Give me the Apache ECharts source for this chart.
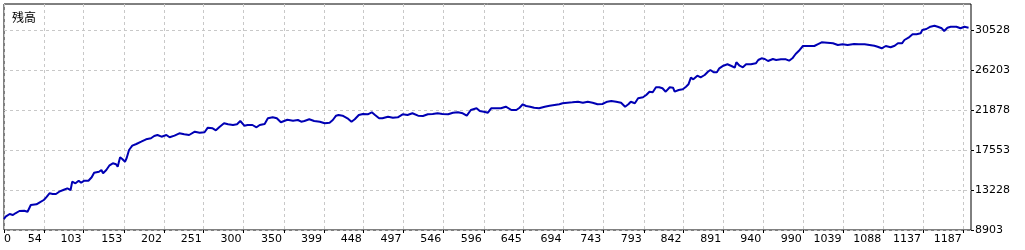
<!DOCTYPE html>
<html>
<head>
<meta charset="utf-8">
<script src="https://cdn.jsdelivr.net/npm/echarts@6/dist/echarts.min.js"></script>
<style>
html,body{margin:0;padding:0;background:#fff;}
#c{width:1025px;height:250px;}
</style>
</head>
<body>
<div id="c"></div>
<script>
// ---- data ----
const chartTitle = '残高';
const xTickLabels = ['0','54','103','153','202','251','300','350','399','448','497','546','596','645','694','743','793','842','891','940','990','1039','1088','1137','1187'];
const xTickValues = [5,54,103,153,202,251,300,350,399,448,497,546,596,645,694,743,793,842,891,940,990,1039,1088,1137,1187];
const yTickValues = [8903,13228,17553,21878,26203,30528];
const xRange = [5, 1196];
const yRange = [8903, 33339];

const tradeIdx = [
5,7,12,16,19,24,30,34,36,38,40,45,49,54,57,61,65,69,73,78,83,87,89,93,97,100,104,109,113,116,122,125,127,131,135,139,143,145,148,151,154,156,159,163,168,174,180,186,190,194,199,205,
209,215,221,227,233,240,246,252,256,262,266,270,276,281,287,292,296,301,305,311,316,320,326,330,336,341,346,350,354,361,367,371,375,381,387,394,400,406,410,414,417,
422,428,433,437,442,447,453,458,462,467,471,478,484,490,496,502,508,515,521,527,533,539,545,552,558,564,570,575,580,587,591,596,601,605,611,617,623,
630,636,640,644,648,653,658,664,671,677,683,689,693,699,705,712,718,724,730,736,742,748,753,759,765,770,774,777,782,786,792,796,800,804,808,812,816,820,825,829,831,836,
841,845,848,851,854,859,863,868,872,875,879,883,886,891,896,901,905,907,911,915,919,925,931,934,938,942,946,952,956,962,968,972,976,980,985,989,995,1003,1007,1012,1019,1026,1032,1038,1044,
1052,1058,1065,1071,1077,1081,1086,1091,1097,1102,1106,1111,1114,1119,1124,1129,1134,1136,1141,1146,1151,1155,1160,1163,1167,1171,1178,1183,1188,1193
];
const balance = [
10092,10341,10633,10525,10709,10957,10990,10882,10774,11606,11790,11682,11898,12147,12439,12871,12796,12796,13044,13228,13412,13228,14125,13952,14233,14017,14233,14233,14601,15098,15206,15391,15034,15391,15899,16115,16007,15748,16764,16548,16288,16656,17553,18018,18202,18451,18710,18818,19067,19175,18991,19175,
18926,19103,19359,19251,19175,19532,19424,19467,19964,19899,19683,20008,20440,20332,20256,20332,20689,20180,20256,20256,20008,20256,20364,20980,21088,20980,20548,20689,20829,20721,20797,20613,20689,20872,20689,20613,20440,20505,20797,21262,21338,
21262,20980,20613,20872,21338,21446,21414,21630,21338,20980,20980,21154,21046,21088,21414,21338,21522,21262,21229,21414,21446,21522,21446,21414,21586,21630,21522,21262,21878,22062,21770,21694,21586,22062,22062,22062,22235,
21878,21878,22126,22494,22310,22235,22126,22062,22235,22343,22418,22494,22602,22667,22710,22775,22667,22775,22667,22494,22527,22775,22851,22775,22667,22235,22494,22775,22602,23143,23251,23500,23857,23792,24332,24332,24224,23857,24332,24289,23857,24040,
24116,24397,24657,25370,25197,25587,25414,25662,26019,26203,25954,25954,26387,26668,26820,26636,26452,27035,26668,26495,26820,26820,26928,27284,27468,27392,27176,27392,27284,27360,27360,27209,27468,27933,28369,28798,28798,28798,28982,29198,29155,29090,28906,28982,28906,
29014,28982,28982,28906,28830,28722,28549,28798,28657,28830,29090,29090,29447,29696,30063,30063,30172,30528,30636,30885,30993,30885,30712,30420,30777,30885,30885,30712,30885,30777
];

const seriesData = tradeIdx.map((x, i) => [x, balance[i]]);

const numFont = 'DejaVu Sans';
const chart = echarts.init(document.getElementById('c'), null, {renderer: 'canvas'});
chart.setOption({
  animation: false,
  backgroundColor: '#ffffff',
  title: {
    text: chartTitle,
    left: 7, top: 6,
    textStyle: {fontSize: 12, fontWeight: 'normal', color: '#000', fontFamily: 'Noto Sans CJK JP'}
  },
  grid: {
    left: 4, top: 4, right: 54, bottom: 20,
    show: true, borderColor: '#000', borderWidth: 1, backgroundColor: '#fff'
  },
  xAxis: {
    type: 'value',
    min: xRange[0], max: xRange[1],
    axisLine: {show: false},
    axisTick: {show: true, length: 3, customValues: xTickValues, lineStyle: {color: '#000'}},
    axisLabel: {
      customValues: xTickValues,
      formatter: (v) => { const k = xTickValues.indexOf(v); return k >= 0 ? xTickLabels[k] : ''; },
      align: 'right', alignMinLabel: 'left',
      padding: [0, 2, 0, 0],
      margin: 4, fontSize: 11, color: '#000', fontFamily: numFont
    },
    splitLine: {show: true, lineStyle: {color: '#c8c8c8', type: [3, 3], width: 1}}
  },
  yAxis: {
    type: 'value',
    position: 'right',
    min: yRange[0], max: yRange[1],
    axisLine: {show: false},
    axisTick: {show: true, length: 3, customValues: yTickValues, lineStyle: {color: '#000'}},
    axisLabel: {
      customValues: yTickValues,
      formatter: (v) => String(Math.round(v)),
      margin: 4, fontSize: 11, color: '#000', fontFamily: numFont
    },
    splitLine: {show: true, lineStyle: {color: '#c8c8c8', type: [3, 3], width: 1}}
  },
  series: [{
    type: 'line',
    data: seriesData,
    showSymbol: false,
    symbol: 'none',
    lineStyle: {color: '#0000b4', width: 2},
    itemStyle: {color: '#0000b4'},
    z: 3
  }]
});
</script>
</body>
</html>
